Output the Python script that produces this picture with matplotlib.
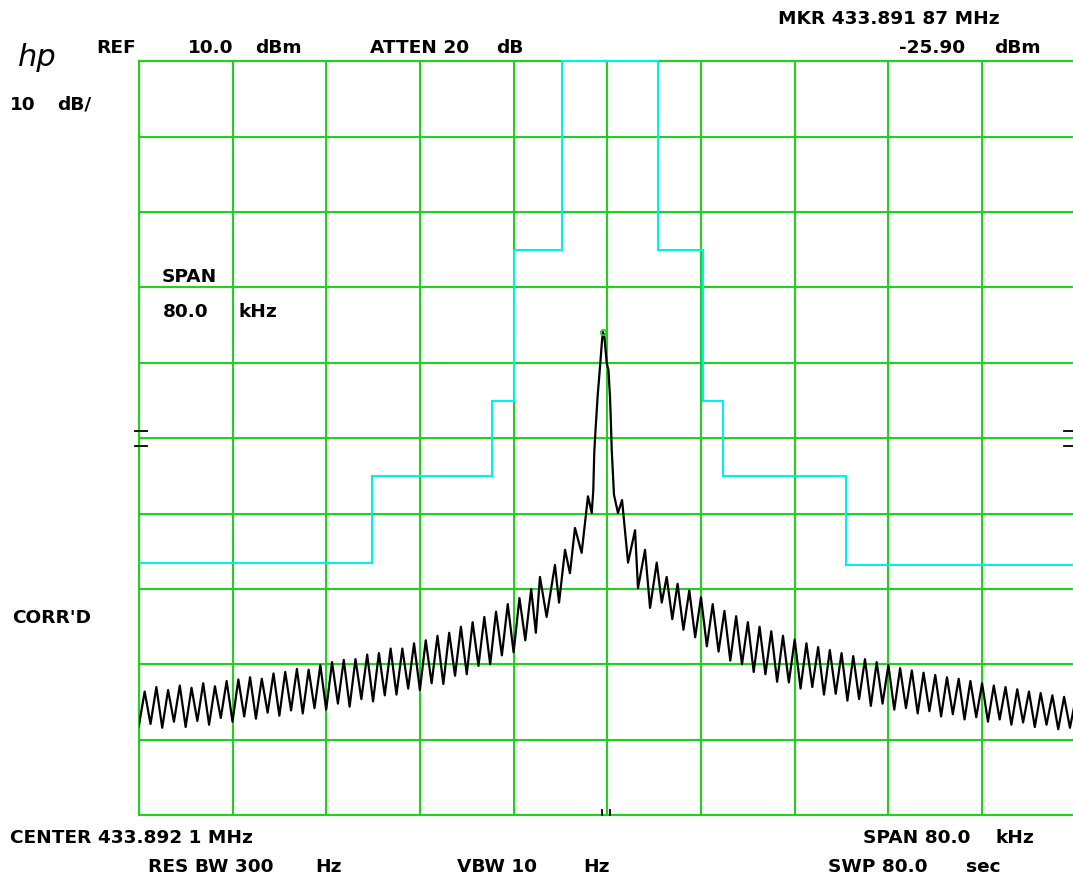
import numpy as np
import matplotlib.pyplot as plt

W, H = 1073, 876

# limit line (cyan): step edges in kHz from centre, levels in dBm
mask_edges = [-40, -20.1, -9.85, -7.95, -3.85, 4.35, 8.15, 9.9, 20.4, 40]
mask_levels = [-56.6, -45.0, -35.0, -15.0, 10.0, -15.0, -35.0, -45.0, -56.8]

# trace, left skirt (0.5 kHz steps from -40 kHz to -6.5 kHz)
left_dbm = [-78.2, -73.6, -77.9, -73.0, -78.4, -73.4, -77.6, -72.8, -78.3, -73.1,
            -77.5, -72.5, -78.0, -72.9, -77.1, -72.2, -77.6, -72.0, -76.9, -71.7,
            -77.2, -71.9, -76.4, -71.2, -76.8, -71.0, -76.1, -70.6, -76.5, -70.7,
            -75.8, -70.1, -76.0, -69.7, -75.2, -69.4, -75.6, -69.3, -74.6, -68.7,
            -74.9, -68.5, -74.1, -67.9, -74.0, -67.9, -73.2, -67.2, -73.4, -66.8,
            -72.5, -66.2, -72.6, -65.8, -71.5, -65.0, -71.3, -64.4, -70.2, -63.7,
            -70.0, -63.0, -68.8, -62.0, -68.4, -61.2, -66.8, -60.0]
left_khz = np.arange(len(left_dbm)) * 0.5 - 40

# trace around the carrier
mid_khz = [-6.1, -5.75, -5.18, -4.47, -4.12, -3.61, -3.19, -2.76, -2.19, -1.65, -1.33,
           -1.2, -1.11, -0.99, -0.82, -0.62, -0.45, -0.37, -0.25, -0.05, 0.1,
           0.23, 0.3, 0.38, 0.57, 0.91, 1.26, 1.77, 2.37, 2.62, 3.22,
           3.65, 4.22, 4.65, 5.07, 5.55]
mid_dbm = [-65.8, -58.4, -63.7, -56.8, -61.8, -54.8, -57.9, -51.9, -55.2, -47.7, -49.9,
           -47.0, -41.8, -38.5, -34.3, -30.5, -27.0, -25.9, -26.5, -30.0, -31.0,
           -34.5, -37.6, -41.6, -47.5, -49.9, -48.2, -56.5, -52.2, -59.9, -54.8,
           -62.5, -56.5, -61.8, -58.4, -64.0]

# trace, right skirt (0.5 kHz steps from +6 kHz to +40 kHz)
right_dbm = [-59.3, -65.4, -60.2, -66.4, -61.1, -67.6, -62.0, -68.3, -62.9, -69.5,
             -63.6, -70.0, -64.4, -71.0, -65.0, -71.3, -65.6, -72.3, -66.2, -72.4,
             -66.7, -73.2, -67.2, -73.0, -67.7, -74.0, -68.1, -73.9, -68.5, -74.8,
             -68.9, -74.6, -69.3, -75.5, -69.7, -75.2, -70.1, -76.0, -70.5, -75.8,
             -70.8, -76.5, -71.1, -76.2, -71.4, -76.9, -71.7, -76.6, -71.9, -77.3,
             -72.2, -77.0, -72.5, -77.6, -72.8, -77.3, -73.0, -78.0, -73.3, -77.7,
             -73.6, -78.3, -73.8, -78.0, -74.1, -78.6, -74.3, -78.4, -74.5]
right_khz = np.arange(len(right_dbm)) * 0.5 + 6

mkr_khz, mkr_dbm = -0.37, -25.9

trace_khz = np.concatenate([left_khz, mid_khz, right_khz])
trace_dbm = np.concatenate([left_dbm, mid_dbm, right_dbm])

green = '#1ed21e'
cyan = '#00f0f0'

fig = plt.figure(figsize=(W / 100, H / 100), dpi=100)
ax = fig.add_axes([138.8 / W, 1 - 815.2 / H, 937.0 / W, 753.9 / H])
ax.set_xlim(-40, 40)
ax.set_ylim(-90, 10)
ax.set_xticks(np.arange(-40, 41, 8))
ax.set_yticks(np.arange(-90, 11, 10))
ax.tick_params(length=0, labelbottom=False, labelleft=False)
ax.grid(True, color=green, lw=1.5)
for s in ax.spines.values():
    s.set_color(green)
    s.set_linewidth(1.5)

ax.stairs(mask_levels, mask_edges, baseline=None, color=cyan, lw=1.5, zorder=3, clip_on=False)
ax.plot(trace_khz, trace_dbm, color='black', lw=1.6, zorder=4)
ax.plot([mkr_khz], [mkr_dbm], marker='o', ms=4, mfc='none', mec=green, mew=1.2, zorder=5)

# little reference marks on the frame
for y in (-39.0, -41.0):
    ax.plot([-40.3, -39.3], [y, y], color='black', lw=1.3, clip_on=False, zorder=5)
    ax.plot([39.0, 40.0], [y, y], color='black', lw=1.3, clip_on=False, zorder=5)
for x in (-0.45, 0.25):
    ax.plot([x, x], [-90, -89.3], color='black', lw=1.3, clip_on=False, zorder=5)


def put(x, y, s, **kw):
    fig.text(x / W, 1 - y / H, s, fontsize=13.3, fontweight='bold',
             family='DejaVu Sans', va='baseline', ha='left', **kw)


put(777.6, 24.2, 'MKR 433.891 87 MHz')
put(96, 52.7, 'REF')
put(187.7, 52.7, '10.0')
put(254.8, 52.7, 'dBm')
put(370.2, 52.7, 'ATTEN 20')
put(495.9, 52.7, 'dB')
put(898.8, 52.7, '-25.90')
put(994, 52.7, 'dBm')
put(10.3, 109.5, '10')
put(56.8, 109.5, 'dB/')
put(161.7, 281.7, 'SPAN')
put(163.3, 316.7, '80.0')
put(238.3, 316.7, 'kHz')
put(11.7, 622.7, "CORR'D")
put(10.3, 843, 'CENTER 433.892 1 MHz')
put(863, 843, 'SPAN 80.0')
put(995.7, 843, 'kHz')
put(148, 871.6, 'RES BW 300')
put(315, 871.6, 'Hz')
put(457, 871.6, 'VBW 10')
put(583.7, 871.6, 'Hz')
put(827.8, 871.6, 'SWP 80.0')
put(965.6, 871.6, 'sec')

fig.text(18 / W, 1 - 66 / H, 'hp', fontsize=22, fontstyle='italic',
         family='DejaVu Sans', fontweight='light', va='baseline')

fig.savefig('out.png', dpi=100)
